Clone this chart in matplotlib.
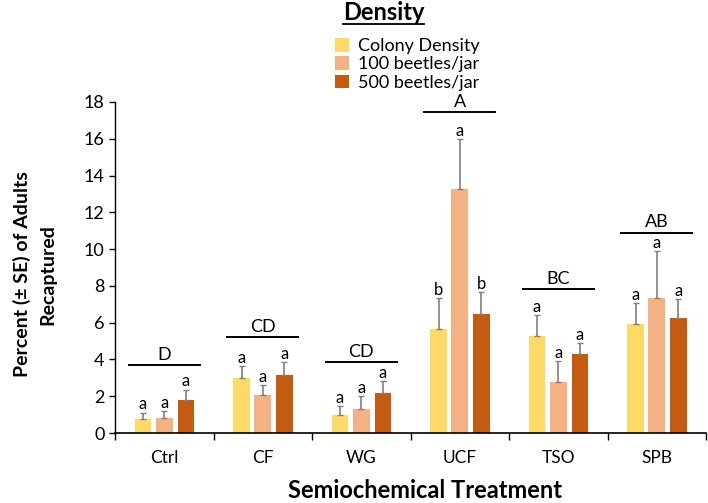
import numpy as np
import matplotlib.pyplot as plt
from matplotlib.patches import Patch
from matplotlib.lines import Line2D

plt.rcParams['font.family'] = ['Lato', 'DejaVu Sans']

# data
treatments = ['Ctrl', 'CF', 'WG', 'UCF', 'TSO', 'SPB']
series_names = ['Colony Density', '100 beetles/jar', '500 beetles/jar']
colony = [0.76, 3.0, 0.98, 5.65, 5.27, 5.92]
b100 = [0.82, 2.07, 1.3, 13.26, 2.77, 7.34]
b500 = [1.8, 3.15, 2.17, 6.47, 4.29, 6.25]
colony_se = [0.34, 0.65, 0.49, 1.68, 1.14, 1.15]
b100_se = [0.38, 0.53, 0.7, 2.72, 1.14, 2.55]
b500_se = [0.55, 0.7, 0.66, 1.19, 0.6, 1.03]
colony_let = ['a', 'a', 'a', 'b', 'a', 'a']
b100_let = ['a', 'a', 'a', 'a', 'a', 'a']
b500_let = ['a', 'a', 'a', 'b', 'a', 'a']
group_let = ['D', 'CD', 'CD', 'A', 'BC', 'AB']
group_line_y = [3.7, 5.2, 3.86, 17.45, 7.83, 10.9]

colors = ['#FFD966', '#F4B183', '#C55A11']

fig = plt.figure(figsize=(7.08, 5.03), dpi=100)
ax = fig.add_axes([115 / 708, 70 / 503, 591 / 708, 331 / 503])

x = np.arange(len(treatments))
width = 0.17
offsets = [-0.215, 0, 0.22]
vals = [colony, b100, b500]
ses = [colony_se, b100_se, b500_se]
lets = [colony_let, b100_let, b500_let]

for i in range(3):
    xs = x + offsets[i]
    v = np.array(vals[i])
    e = np.array(ses[i])
    ax.bar(xs, v, width, color=colors[i], zorder=2)
    ax.errorbar(xs, v, yerr=[np.zeros_like(e), e], fmt='none',
                ecolor='#808080', elinewidth=1.2, capsize=2.5, capthick=1, zorder=3)
    for xi, top, lt in zip(xs, v + e, lets[i]):
        ax.text(xi, top + 0.02, lt, ha='center', va='bottom', fontsize=12)

# group letters with lines
for xi, yl, gl in zip(x, group_line_y, group_let):
    ax.plot([xi - 0.36, xi + 0.36], [yl, yl], color='black', lw=1.4)
    ax.text(xi, yl + 0.12, gl, ha='center', va='bottom', fontsize=13)

ax.set_xlim(-0.5, len(treatments) - 0.5)
ax.set_ylim(0, 18)
ax.set_yticks(np.arange(0, 19, 2))
ax.set_xticks(x)
ax.set_xticklabels(treatments, fontsize=12.5)
ax.set_xticks(np.arange(-0.5, len(treatments)), minor=True)
ax.tick_params(axis='x', which='major', length=0, pad=12)
ax.tick_params(axis='x', which='minor', length=5, width=1)
ax.tick_params(axis='y', length=4, width=1, labelsize=13)
for s in ['top', 'right']:
    ax.spines[s].set_visible(False)
ax.spines['left'].set_linewidth(1)
ax.spines['bottom'].set_linewidth(1.2)

ax.set_xlabel('Semiochemical Treatment', fontsize=17, fontweight='bold')
ax.xaxis.set_label_coords(0.525, -0.14)
ax.set_ylabel('Percent (± SE) of Adults\nRecaptured', fontsize=14, fontweight='bold',
              linespacing=1.55)
ax.yaxis.set_label_coords(-0.1, 0.48)

# legend
handles = [Patch(facecolor=c, edgecolor='none') for c in colors]
fig.legend(handles, series_names, loc='upper left', bbox_to_anchor=(328 / 708, 1 - 31 / 503),
           frameon=False, fontsize=13, handlelength=0.75, handleheight=0.75,
           handletextpad=0.5, labelspacing=0.12, borderaxespad=0)
fig.text(343 / 708, 1 - 13 / 503, 'Density', fontsize=17, fontweight='bold', va='center', ha='left')
fig.add_artist(Line2D([343 / 708, 424 / 708], [1 - 24 / 503, 1 - 24 / 503], color='black', lw=1.3))

fig.savefig('out.png', dpi=100)
